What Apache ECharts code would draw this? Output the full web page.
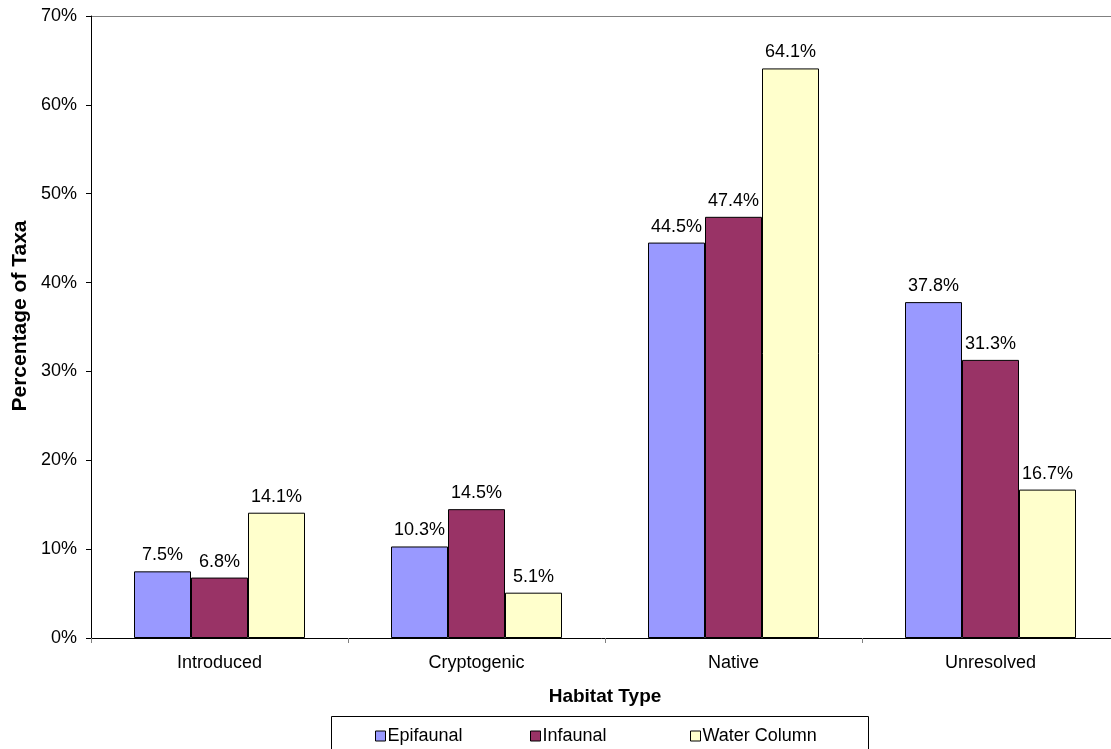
<!DOCTYPE html>
<html><head><meta charset="utf-8">
<script src="https://cdn.jsdelivr.net/npm/echarts@6/dist/echarts.min.js"></script>
<style>html,body{margin:0;padding:0;background:#fff}#c{width:1111px;height:749px}</style>
</head><body><div id="c"></div>
<script>
const categories = ['Introduced', 'Cryptogenic', 'Native', 'Unresolved'];
const epifaunal = [7.5, 10.3, 44.5, 37.8];
const infaunal = [6.8, 14.5, 47.4, 31.3];
const waterColumn = [14.1, 5.1, 64.1, 16.7];
const seriesNames = ['Epifaunal', 'Infaunal', 'Water Column'];
const colors = ['#9999FF', '#993366', '#FFFFCC'];
const FONT = 'Liberation Sans, Arial, sans-serif';

const chart = echarts.init(document.getElementById('c'));
const mk = (name, data, color) => ({
  name, type: 'bar', data, barWidth: 57, barGap: '0%',
  itemStyle: { color, borderColor: '#000', borderWidth: 1 },
  label: { show: true, position: 'top', distance: 7, formatter: p => p.value.toFixed(1) + '%',
    color: '#000', fontFamily: FONT, fontSize: 18 }
});
const legendCommon = { top: 727, itemWidth: 10, itemHeight: 10, icon: 'rect', padding: 0,
  textStyle: { fontFamily: FONT, fontSize: 18, color: '#000', padding: [0,0,0,-3] },
  itemStyle: { borderColor: '#000', borderWidth: 1 } };
chart.setOption({
  animation: false,
  grid: { left: 91, top: 16, width: 1028, height: 622, outerBoundsMode: 'none' },
  xAxis: {
    type: 'category', data: categories,
    axisLine: { lineStyle: { color: '#000', width: 1 } },
    axisTick: { show: true, length: 5, lineStyle: { color: '#808080' } },
    axisLabel: { color: '#000', fontFamily: FONT, fontSize: 18, margin: 16 },
    name: 'Habitat Type', nameLocation: 'middle', nameGap: 49,
    nameTextStyle: { color: '#000', fontFamily: FONT, fontSize: 19, fontWeight: 'bold' }
  },
  yAxis: {
    type: 'value', min: 0, max: 70, interval: 10,
    axisLine: { show: true, lineStyle: { color: '#000', width: 1 } },
    axisTick: { show: true, length: 5, lineStyle: { color: '#000' } },
    splitLine: { show: false },
    axisLabel: { color: '#000', fontFamily: FONT, fontSize: 18, margin: 14, formatter: '{value}%' }
  },
  legend: [
    Object.assign({ left: 375, data: [seriesNames[0]] }, legendCommon),
    Object.assign({ left: 530, data: [seriesNames[1]] }, legendCommon),
    Object.assign({ left: 690, data: [seriesNames[2]] }, legendCommon)
  ],
  graphic: [
    { type: 'line', shape: { x1: 91, y1: 16.5, x2: 1111, y2: 16.5 }, style: { stroke: '#808080', lineWidth: 1 } },
    { type: 'rect', shape: { x: 331.5, y: 716.5, width: 537, height: 40 }, style: { fill: 'none', stroke: '#000', lineWidth: 1 } },
    { type: 'text', x: 20, y: 316, rotation: Math.PI / 2,
      style: { text: 'Percentage of Taxa', fill: '#000', font: 'bold 21px ' + FONT, align: 'center', verticalAlign: 'middle' } }
  ],
  series: [mk(seriesNames[0], epifaunal, colors[0]), mk(seriesNames[1], infaunal, colors[1]), mk(seriesNames[2], waterColumn, colors[2])]
});
</script></body></html>
